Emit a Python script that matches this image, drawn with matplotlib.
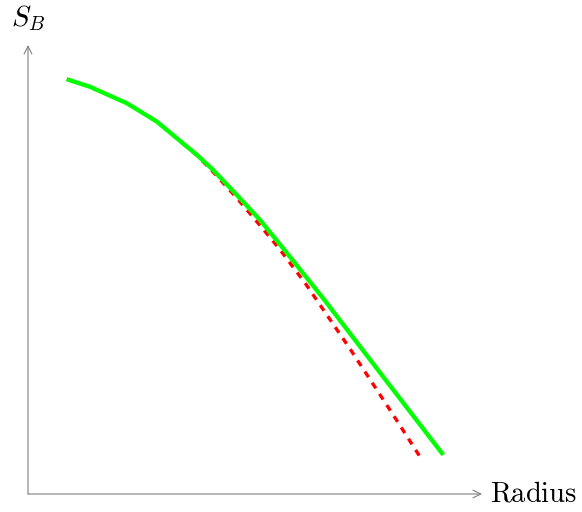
import matplotlib
matplotlib.use('Agg')
import matplotlib.pyplot as plt

plt.rcParams['mathtext.fontset'] = 'cm'

# values (arbitrary units)
radius_fit = [0.97, 1.55, 2.47, 3.22, 4.22, 4.63, 5.3, 5.8, 6.38, 7.38, 8.88, 10.38]
sb_fit = [10.37, 10.18, 9.77, 9.31, 8.48, 8.1, 7.39, 6.85, 6.14, 4.89, 2.93, 0.98]

radius_obs = [0.97, 1.55, 2.47, 3.22, 4.22, 4.63, 5.22, 5.72, 6.26, 6.93, 8.05, 9.18, 9.8]
sb_obs = [10.37, 10.18, 9.77, 9.31, 8.47, 8.05, 7.4, 6.81, 6.16, 5.27, 3.63, 1.9, 0.93]

x_end = 11.35
y_end = 11.225

fig = plt.figure(figsize=(5.82, 5.12), dpi=100)
ax = fig.add_axes([0, 0, 1, 1])
ax.set_xlim(-0.7, 13.85)
ax.set_ylim(-0.45, 12.35)
ax.axis('off')

ax.annotate('', xy=(x_end, 0), xytext=(0, 0),
            arrowprops=dict(arrowstyle='->', color='gray', lw=0.8,
                            shrinkA=0, shrinkB=0, mutation_scale=14))
ax.annotate('', xy=(0, y_end), xytext=(0, 0),
            arrowprops=dict(arrowstyle='->', color='gray', lw=0.8,
                            shrinkA=0, shrinkB=0, mutation_scale=14))

ax.plot(radius_obs, sb_obs, color='red', lw=2.4, ls=(0, (2, 2)))
ax.plot(radius_fit, sb_fit, color='#00ff00', lw=3.1, solid_capstyle='butt',
        solid_joinstyle='round')

ax.text(x_end + 0.2, 0, r'$\mathrm{Radius}$', fontsize=20.5, ha='left', va='center')
ax.text(0, y_end + 0.3, r'$S_B$', fontsize=20.5, ha='center', va='bottom')

fig.savefig('out.png', dpi=100)
